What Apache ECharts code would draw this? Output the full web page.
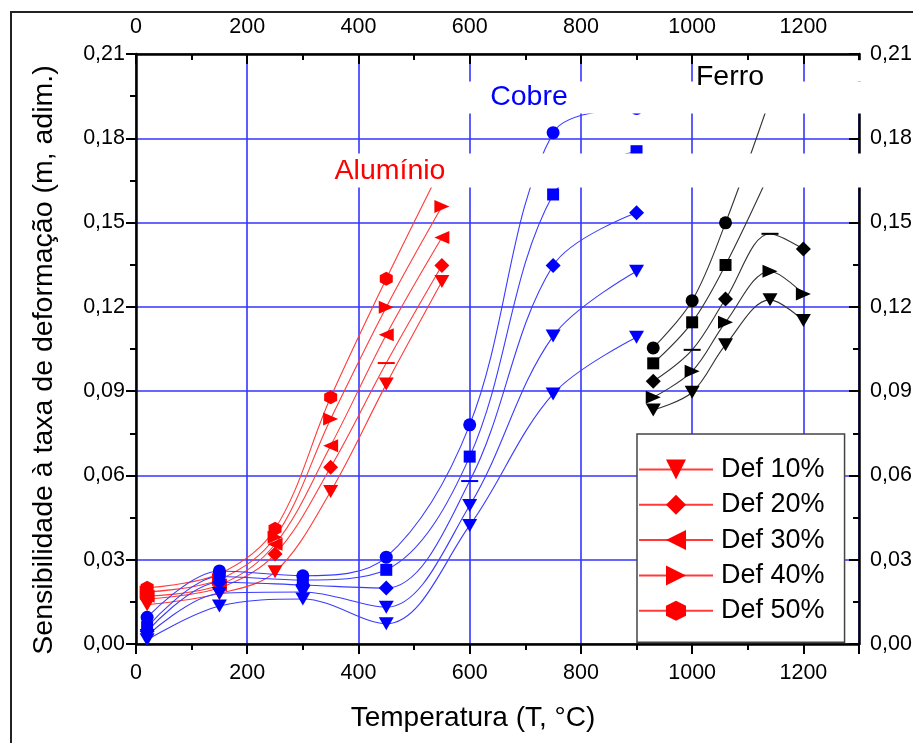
<!DOCTYPE html>
<html><head><meta charset="utf-8">
<script src="https://cdn.jsdelivr.net/npm/echarts@6/dist/echarts.min.js"></script>
<style>html,body{margin:0;padding:0;background:#fff}#c{width:913px;height:743px}</style>
</head><body><div id="c"></div>
<script>
// ---------------- data ----------------
const defLabels = ['Def 10%', 'Def 20%', 'Def 30%', 'Def 40%', 'Def 50%'];
// Alumínio
const alT  = [20, 150, 250, 350, 450, 550];
const al10 = [0.014, 0.018, 0.0257, 0.0543, 0.0925, 0.129];
const al20 = [0.016, 0.020, 0.032, 0.0629, 0.100, 0.1347];
const al30 = [0.017, 0.021, 0.0355, 0.0706, 0.1101, 0.1447];
const al40 = [0.0185, 0.023, 0.038, 0.0801, 0.1199, 0.1557];
const al50 = [0.020, 0.025, 0.041, 0.0878, 0.130, 0.170];
// Cobre
const cuT  = [20, 150, 300, 450, 600, 750, 900];
const cu10 = [0.0015, 0.0135, 0.016, 0.0072, 0.0422, 0.089, 0.1092];
const cu20 = [0.003, 0.018, 0.0185, 0.0131, 0.0493, 0.1096, 0.1327];
const cu30 = [0.0045, 0.022, 0.021, 0.0199, 0.058, 0.1347, 0.1535];
const cu40 = [0.006, 0.024, 0.0228, 0.0264, 0.0667, 0.160, 0.1754];
const cu50 = [0.0095, 0.026, 0.0243, 0.0309, 0.078, 0.182, 0.1906];
// Ferro
const feT  = [930, 1000, 1060, 1140, 1200];
const fe10 = [0.0833, 0.0896, 0.1065, 0.1225, 0.1151];
const fe20 = [0.0878, 0.0971, 0.1145, 0.1327, 0.1246];
const fe30 = [0.0935, 0.1047, 0.1228, 0.146, 0.1406];
const fe40 = [0.0999, 0.1145, 0.1349, 0.168];
const fe50 = [0.1054, 0.1222, 0.1499, 0.194];
// axes
const xMin = 0, xMax = 1300, xStep = 200;
const yMin = 0, yMax = 0.21, yStep = 0.03;
// labels
const materialLabels = ['Alumínio', 'Cobre', 'Ferro'];
const xTitle = 'Temperatura (T, °C)';
const yTitle = 'Sensibilidade à taxa de deformação (m, adim.)';

// ---------------- styles ----------------
const FONT = '"Liberation Sans", Arial, sans-serif';
const RED = '#ff0000', BLUE = '#0000ff', BLACK = '#000000';
const HEX = 'path://M50,0 L93.3,25 L93.3,75 L50,100 L6.7,75 L6.7,25 Z';
const DASH = {symbol: 'rect', symbolSize: [17, 2], symbolRotate: 0};

function mk(name, T, vals, color, lineColor, symbol, size, rot, dashIdx) {
  return {
    type: 'line', name: name,
    data: vals.map((v, i) => dashIdx.indexOf(i) >= 0
      ? Object.assign({value: [T[i], v]}, DASH) : [T[i], v]),
    smooth: 0.35, symbol: symbol, symbolSize: size, symbolRotate: rot,
    showSymbol: true, showAllSymbol: true, clip: false,
    lineStyle: {color: lineColor, width: 1.1},
    itemStyle: {color: color, opacity: 1},
    emphasis: {disabled: true}, silent: true, z: 2
  };
}
const TRI = [15, 13], TRIS = [13, 15];
const series = [
  mk(defLabels[0], alT, al10, RED, '#ff3b3b', 'triangle', TRI, 180, []),
  mk(defLabels[1], alT, al20, RED, '#ff3b3b', 'diamond', [15, 15], 0, [4]),
  mk(defLabels[2], alT, al30, RED, '#ff3b3b', 'triangle', TRIS, 90, []),
  mk(defLabels[3], alT, al40, RED, '#ff3b3b', 'triangle', TRIS, -90, []),
  mk(defLabels[4], alT, al50, RED, '#ff3b3b', HEX, [13, 14], 0, []),
  mk('Cu 10%', cuT, cu10, BLUE, '#3b3bff', 'triangle', TRI, 180, []),
  mk('Cu 20%', cuT, cu20, BLUE, '#3b3bff', 'triangle', TRI, 180, []),
  mk('Cu 30%', cuT, cu30, BLUE, '#3b3bff', 'diamond', [15, 15], 0, [4]),
  mk('Cu 40%', cuT, cu40, BLUE, '#3b3bff', 'rect', [12, 12], 0, []),
  mk('Cu 50%', cuT, cu50, BLUE, '#3b3bff', 'circle', 13, 0, []),
  mk('Fe 10%', feT, fe10, BLACK, '#333333', 'triangle', TRI, 180, []),
  mk('Fe 20%', feT, fe20, BLACK, '#333333', 'triangle', TRIS, -90, []),
  mk('Fe 30%', feT, fe30, BLACK, '#333333', 'diamond', [15, 15], 0, [1, 3]),
  mk('Fe 40%', feT, fe40, BLACK, '#333333', 'rect', [12, 12], 0, []),
  mk('Fe 50%', feT, fe50, BLACK, '#333333', 'circle', 13, 0, [])
];

const yFmt = v => v.toFixed(2).replace('.', ',');
const xFmt = v => String(Math.round(v));
const axisLine = {show: true, onZero: false, lineStyle: {color: '#000', width: 2.5}};
const gridLine = {show: true, lineStyle: {color: '#3535ff', width: 1.6}};
const lblStyle = {color: '#000', fontSize: 21.5, fontFamily: FONT};

function xAx(pos, inside, showSplit, margin) {
  return {
    type: 'value', position: pos, min: xMin, max: xMax, interval: xStep,
    axisLine: axisLine,
    axisTick: {show: true, inside: inside, length: 10, lineStyle: {color: '#000', width: 2}},
    minorTick: {show: true, splitNumber: 2, length: 6, lineStyle: {color: '#000', width: 2}},
    axisLabel: Object.assign({margin: margin, showMaxLabel: false, formatter: xFmt}, lblStyle),
    splitLine: showSplit ? gridLine : {show: false}, minorSplitLine: {show: false}
  };
}
function yAx(pos, inside, showSplit, margin) {
  return {
    type: 'value', position: pos, min: yMin, max: yMax, interval: yStep,
    axisLine: axisLine,
    axisTick: {show: true, inside: inside, length: 10, lineStyle: {color: '#000', width: 2}},
    minorTick: {show: true, splitNumber: 2, length: 6, lineStyle: {color: '#000', width: 2}},
    axisLabel: Object.assign({margin: margin, formatter: yFmt}, lblStyle),
    splitLine: showSplit ? gridLine : {show: false}, minorSplitLine: {show: false}
  };
}

const chart = echarts.init(document.getElementById('c'), null, {renderer: 'canvas'});
chart.setOption({
  animation: false,
  backgroundColor: '#ffffff',
  grid: {left: 136, right: 54, top: 54, bottom: 99, containLabel: false, outerBoundsMode: 'none'},
  xAxis: [xAx('bottom', false, true, 18), xAx('top', true, false, 16)],
  yAxis: [yAx('left', false, true, 11), yAx('right', true, false, 11)],
  legend: {
    data: defLabels, orient: 'vertical', left: 637, top: 434,
    backgroundColor: '#fff', borderColor: '#444', borderWidth: 1.5, borderRadius: 0,
    padding: [22, 20, 18, 1], itemWidth: 74, itemHeight: 25, itemGap: 8.3,
    textStyle: {fontSize: 27, color: '#000', fontFamily: FONT, lineHeight: 26, padding: [0, 0, 0, 3]},
    selectedMode: false, z: 10
  },
  series: series
});

// white masks (as in the original figure), positioned in data units
const masks = [
  [585, 0.2002, 1312, 0.1888],
  [300, 0.1746, 1312, 0.1625],
  [1290, 0.2078, 1312, 0.2002]
];
const g = [];
masks.forEach(m => {
  const p1 = chart.convertToPixel({xAxisIndex: 0, yAxisIndex: 0}, [m[0], m[1]]);
  const p2 = chart.convertToPixel({xAxisIndex: 0, yAxisIndex: 0}, [m[2], m[3]]);
  g.push({type: 'rect', z: 100, silent: true,
    shape: {x: p1[0], y: p1[1], width: p2[0] - p1[0], height: p2[1] - p1[1]},
    style: {fill: '#fff'}});
});
function txt(t, x, y, color, size, rot) {
  return {type: 'text', x: x, y: y, rotation: rot || 0, z: 110, silent: true,
    style: {text: t, fill: color, font: size + 'px ' + FONT, textAlign: 'center', textVerticalAlign: 'middle'}};
}
g.push(txt(materialLabels[0], 390, 171, RED, 28.5));
g.push(txt(materialLabels[1], 529, 97, BLUE, 28.5));
g.push(txt(materialLabels[2], 730, 77, BLACK, 28.5));
g.push(txt(xTitle, 473, 718, BLACK, 28));
g.push(txt(yTitle, 44, 360, BLACK, 28.5, Math.PI / 2));
g.push({type: 'rect', z: 0, silent: true, shape: {x: 11, y: 12, width: 960, height: 800},
  style: {fill: 'none', stroke: '#222', lineWidth: 2}});
chart.setOption({graphic: g});
</script></body></html>
